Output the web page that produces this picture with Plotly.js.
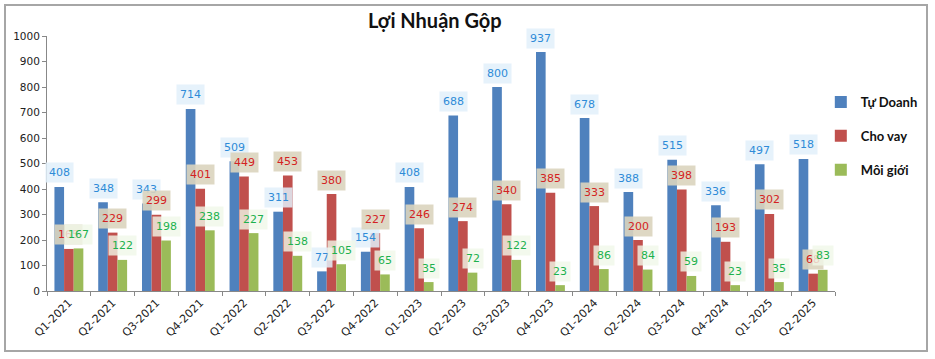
<!DOCTYPE html>
<html>
<head>
<meta charset="utf-8">
<script src="https://cdn.plot.ly/plotly-3.0.1.min.js"></script>
<style>
html,body{margin:0;padding:0;background:#fff;}
#wrap{position:relative;width:935px;height:359px;}
#chart{width:935px;height:359px;}
#frame{position:absolute;left:4px;top:4px;width:924px;height:348px;border:2px solid #a6a6a6;pointer-events:none;box-sizing:border-box;}
</style>
</head>
<body>
<div id="wrap"><div id="chart"></div><div id="frame"></div></div>
<script>
const categories = ["Q1-2021","Q2-2021","Q3-2021","Q4-2021","Q1-2022","Q2-2022","Q3-2022","Q4-2022","Q1-2023","Q2-2023","Q3-2023","Q4-2023","Q1-2024","Q2-2024","Q3-2024","Q4-2024","Q1-2025","Q2-2025"];
const tuDoanh = [408,348,343,714,509,311,77,154,408,688,800,937,678,388,515,336,497,518];
const choVay = [165,229,299,401,449,453,380,227,246,274,340,385,333,200,398,193,302,68];
const moiGioi = [167,122,198,238,227,138,105,65,35,72,122,23,86,84,59,23,35,83];
const seriesNames = ["Tự Doanh","Cho vay","Môi giới"];

const colors = ["#4f81bd","#c0504d","#9bbb59"];
const labelText = ["#2e8bd8","#d42222","#1db14d"];
const labelBg = ["rgba(226,240,250,0.85)","rgba(218,212,190,0.9)","rgba(240,247,232,0.8)"];
const w = 0.22;
const offsets = [-0.33,-0.11,0.11];
const allSeries = [tuDoanh, choVay, moiGioi];

const traces = allSeries.map((vals,s)=>({
  type:'bar', name:'<b>'+seriesNames[s]+'</b>', x:categories, y:vals,
  width:w, offset:offsets[s],
  marker:{color:colors[s]}, legendgroup:'g'+s, hoverinfo:'skip'
}));

const annotations = [];
allSeries.forEach((vals,s)=>{
  vals.forEach((v,i)=>{
    annotations.push({
      x: i + offsets[s] + w/2, y: v, xref:'x', yref:'y',
      text: String(v), showarrow:false, yshift:14,
      font:{family:'DejaVu Sans, Verdana, sans-serif', size:11, color:labelText[s]},
      bgcolor:labelBg[s], borderpad:3
    });
  });
});
annotations.push({
  xref:'paper', yref:'paper', x:0.493, y:1.0, yshift:2, yanchor:'bottom', showarrow:false,
  text:'<b>Lợi Nhuận Gộp</b>', font:{family:'Lato, Open Sans, sans-serif', size:20, color:'#111'}
});

const layout = {
  width:935, height:359,
  margin:{l:47, r:81, t:36, b:68},
  paper_bgcolor:'#fff', plot_bgcolor:'#fff',
  barmode:'group',
  showlegend:true,
  legend:{x:0.982, xanchor:'left', y:0.80, yanchor:'top', tracegroupgap:14,
    font:{family:'Lato, Open Sans, sans-serif', size:13, color:'#111'},
    itemwidth:30},
  xaxis:{type:'category', tickangle:-45, ticks:'outside', tickson:'boundaries', ticklen:4,
    tickcolor:'#888', showline:true, linecolor:'#888', linewidth:1,
    tickfont:{family:'DejaVu Sans, Verdana, sans-serif', size:11, color:'#222'},
    range:[-0.5,17.5], showgrid:false, zeroline:false},
  yaxis:{range:[0,1000], dtick:100, ticks:'outside', ticklen:4, tickcolor:'#888',
    showline:true, linecolor:'#888', linewidth:1, showgrid:false, zeroline:false,
    tickfont:{family:'DejaVu Sans, Verdana, sans-serif', size:10.5, color:'#222'}},
  annotations:annotations
};
Plotly.newPlot('chart', traces, layout, {displayModeBar:false, staticPlot:true});
</script>
</body>
</html>
